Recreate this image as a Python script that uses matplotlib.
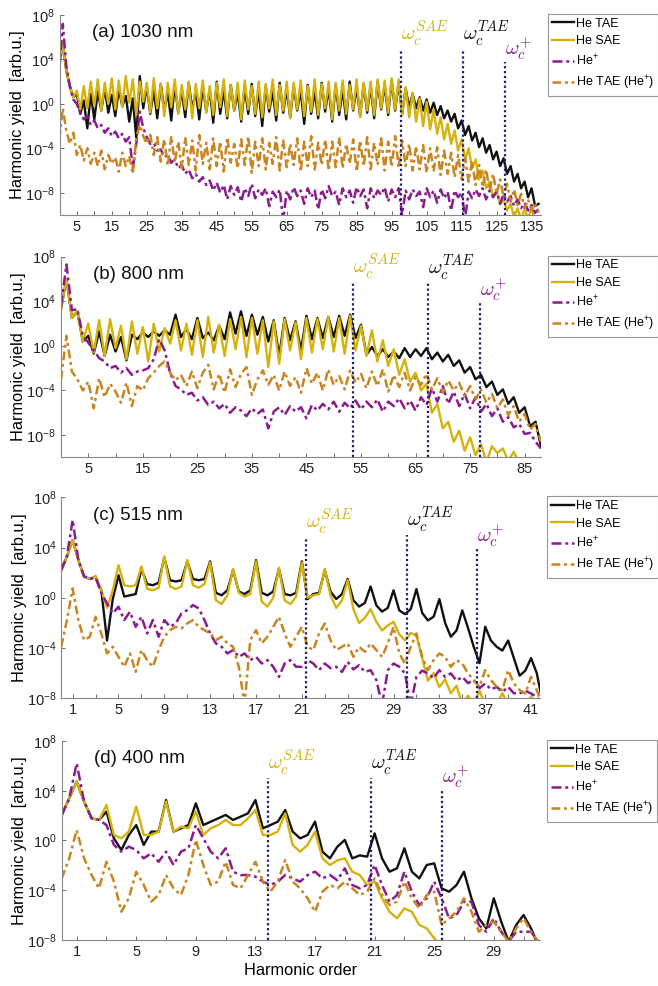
import numpy as np
import matplotlib
matplotlib.use("Agg")
import matplotlib.pyplot as plt

plt.rcParams['font.family'] = ['Liberation Sans', 'DejaVu Sans']
plt.rcParams['mathtext.fontset'] = 'custom'
plt.rcParams['mathtext.rm'] = 'Liberation Sans'
plt.rcParams['mathtext.it'] = 'Liberation Sans:italic'

# ---- data: log10 of harmonic yield ----
# (a) 1030 nm, harmonic orders 0..137
harm_a = np.arange(0, 138)
tae_a = [3.5, 5.4, 3.0, 1.6, 0.6, 0.9, -0.9, 0.3, -2.2, 0.9,
         -1.4, 1.1, -0.6, 1.4, -0.8, 0.8, -1.1, 1.3, -0.2, 0.7,
         -1.6, 0.5, -3.1, 2.5, -0.4, 1.6, -0.9, 1.2, -1.3, 1.8,
         -0.6, 1.0, -1.5, 1.7, -0.8, 1.2, -1.2, 1.9, -0.5, 1.1,
         -1.4, 1.6, -0.7, 1.3, -1.7, 2.0, -0.9, 1.2, -1.3, 1.7,
         -0.6, 1.0, -1.6, 1.5, -0.9, 1.8, -1.1, 1.2, -2.0, 1.6,
         -0.7, 1.1, -1.5, 1.9, -0.8, 1.3, -1.2, 1.6, -0.6, 1.2,
         -1.8, 1.7, -0.9, 1.1, -1.3, 1.9, -0.7, 1.4, -1.6, 1.7,
         -1.0, 1.3, -1.4, 2.0, -0.6, 1.5, -1.1, 1.8, -0.8, 1.6,
         -1.3, 2.0, -0.5, 1.7, -1.0, 2.1, -0.6, 1.9, -0.9, 1.4,
         -0.3, 0.9, -0.4, 0.6, -0.6, 0.4, -0.8, 0.1, -1.0, -0.2,
         -1.3, -0.6, -1.6, -0.9, -2.2, -1.5, -2.8, -2.0, -3.3, -2.6,
         -3.9, -3.1, -4.4, -3.7, -5.0, -4.3, -5.6, -4.9, -6.3, -5.6,
         -7.0, -6.3, -7.6, -7.0, -8.4, -7.6, -9.2, -9.0]
sae_a = [3.5, 5.4, 3.0, 1.6, 0.6, 1.2, -0.5, 1.6, -0.4, 2.0,
         -0.2, 2.2, -0.6, 1.9, 0.0, 2.3, -0.5, 2.1, -0.3, 2.5,
         0.1, 2.2, -1.0, 2.0, 0.2, 1.9, -0.8, 2.3, -0.4, 1.8,
         -1.1, 1.9, -0.3, 2.2, -0.9, 1.7, -0.5, 2.0, -1.3, 1.8,
         -0.4, 2.1, -0.8, 1.6, -1.0, 1.9, -0.3, 2.2, -1.1, 1.7,
         -0.6, 1.9, -1.4, 2.1, -0.5, 1.6, -0.9, 2.0, -1.2, 1.8,
         -0.4, 2.2, -1.0, 1.7, -0.6, 2.0, -1.3, 1.9, -0.5, 2.1,
         -1.1, 1.6, -0.7, 2.2, -1.0, 1.8, -0.4, 2.0, -1.4, 1.9,
         -0.6, 2.1, -0.9, 1.7, -0.5, 2.2, -1.2, 1.9, -0.6, 2.0,
         -1.0, 2.2, -0.4, 2.1, -0.8, 2.3, -0.5, 2.2, -1.0, 1.5,
         -1.2, 1.0, -1.6, 0.5, -2.0, 0.2, -2.3, -0.5, -2.7, -1.2,
         -3.2, -1.8, -3.6, -2.4, -4.2, -3.2, -5.0, -4.0, -5.8, -5.0,
         -6.8, -6.0, -7.6, -7.0, -8.4, -7.8, -9.0, -8.6, -9.6, -9.0,
         -10.2, -9.4, -10.4, -9.5, -10.3, -9.4, -10.4, -10.2]
hep_a = [3.0, 7.2, 3.4, 1.6, 0.4, 0.0, -0.8, -1.4, -1.1, -1.9,
         -1.5, -2.2, -1.9, -2.6, -2.2, -2.9, -2.5, -3.1, -2.7, -3.4,
         -3.0, -5.8, -3.6, -0.7, -2.2, -3.0, -3.6, -3.5, -4.2, -4.1,
         -4.8, -4.6, -5.3, -5.0, -5.8, -5.5, -6.3, -5.9, -6.7, -6.3,
         -7.0, -6.6, -7.3, -6.9, -7.8, -7.1, -8.0, -7.3, -8.6, -7.4,
         -8.2, -7.5, -8.8, -7.6, -8.3, -7.2, -8.5, -7.7, -8.2, -7.6,
         -9.2, -7.9, -8.4, -7.7, -10.5, -7.8, -8.6, -7.5, -8.3, -7.8,
         -9.0, -7.6, -8.4, -7.8, -9.5, -7.7, -8.5, -7.4, -8.3, -7.9,
         -9.1, -7.6, -8.4, -7.8, -8.9, -7.5, -8.3, -7.7, -9.4, -7.6,
         -8.5, -7.8, -8.2, -7.5, -8.8, -7.7, -8.4, -7.6, -10.0, -7.8,
         -8.6, -7.7, -8.3, -7.9, -9.3, -7.6, -8.4, -7.8, -8.9, -7.7,
         -8.5, -7.9, -9.6, -7.8, -8.4, -8.0, -10.3, -7.9, -8.5, -7.7,
         -8.3, -7.6, -8.6, -7.8, -8.4, -7.9, -9.0, -8.1, -8.8, -8.3,
         -9.2, -8.6, -9.4, -8.9, -9.6, -9.1, -9.8, -9.5]
taep_a = [-3.2, -0.4, -2.4, -3.6, -2.6, -4.6, -3.7, -5.1, -4.0, -5.4,
          -4.4, -5.6, -4.2, -5.9, -4.6, -5.4, -4.8, -6.1, -4.4, -5.6,
          -4.7, -6.3, -3.1, -1.9, -2.9, -3.6, -2.8, -4.6, -3.0, -5.2,
          -3.2, -5.6, -2.9, -5.3, -3.4, -5.8, -3.0, -5.5, -3.3, -6.0,
          -2.8, -5.4, -3.5, -5.9, -3.1, -5.6, -3.4, -6.1, -3.0, -5.3,
          -3.6, -5.8, -3.2, -5.5, -2.9, -6.2, -3.4, -5.6, -3.1, -5.9,
          -3.5, -5.4, -3.0, -6.0, -3.3, -5.7, -3.6, -5.5, -3.1, -6.1,
          -3.4, -5.6, -2.9, -5.9, -3.5, -5.5, -3.2, -6.0, -3.4, -5.7,
          -3.0, -5.8, -3.6, -5.4, -3.2, -6.1, -3.3, -5.6, -3.0, -5.9,
          -3.5, -5.5, -3.1, -6.0, -3.4, -5.7, -2.9, -5.8, -3.3, -5.6,
          -3.6, -6.0, -3.8, -5.9, -3.7, -6.2, -4.0, -6.1, -3.9, -6.4,
          -4.2, -6.3, -4.4, -6.6, -4.6, -6.8, -4.9, -7.0, -5.2, -7.3,
          -5.5, -7.5, -5.9, -7.8, -6.3, -8.1, -6.8, -8.4, -7.2, -8.8,
          -7.7, -9.1, -8.1, -9.4, -8.6, -9.6, -9.0, -9.8]

# (b) 800 nm, harmonic orders 0..88
harm_b = np.arange(0, 89)
tae_b = [3.3, 6.0, 2.5, 3.1, 0.4, 0.9, -0.7, 1.3, -0.9, 1.0,
         -0.5, 0.8, -1.3, 1.0, 0.6, 1.2, 0.8, 1.3, 0.9, 1.4,
         1.0, 2.8, 0.8, 1.5, 0.6, 2.5, 0.7, 1.2, 0.5, 1.8,
         0.6, 3.0, 1.1, 3.1, 0.9, 2.8, 1.0, 2.6, 0.4, 2.3,
         -0.9, 2.5, 0.5, 2.2, -0.4, 2.7, 0.6, 2.5, 0.7, 2.6,
         0.8, 2.7, 0.9, 2.8, 0.7, 1.9, -0.8, -0.1, -0.9, -0.3,
         -1.0, -0.5, -1.1, -0.2, -1.0, -0.3, -0.9, -0.2, -1.2, -0.6,
         -1.4, -0.8, -1.8, -1.3, -2.4, -1.9, -3.0, -2.6, -3.7, -3.2,
         -4.4, -3.9, -5.2, -4.6, -6.0, -5.5, -7.2, -6.8, -9.0]
sae_b = [3.3, 6.0, 2.5, 3.1, 0.4, 2.0, -0.6, 2.3, -0.9, 2.4,
         -0.2, 1.8, -1.2, 2.2, -0.7, 1.7, -1.4, 2.0, -0.5, 1.6,
         0.2, 2.3, -0.4, 2.0, -0.8, 2.3, -1.0, 2.6, -0.6, 1.9,
         -0.9, 2.4, -0.3, 2.6, -1.0, 2.5, -0.7, 2.3, -1.9, 2.2,
         -1.6, 2.4, -0.4, 2.1, -1.2, 2.5, -0.6, 2.4, -0.3, 2.6,
         -0.5, 2.5, -0.7, 2.7, -0.4, 1.8, -0.9, 1.4, -1.4, 0.5,
         -1.8, -0.3, -2.6, -1.2, -3.2, -2.4, -4.0, -3.4, -6.0, -5.2,
         -7.4, -6.8, -8.6, -7.6, -9.4, -8.2, -9.8, -8.8, -10.4, -9.0,
         -9.6, -9.2, -10.3, -9.5, -10.5, -10.2, -10.5, -10.3, -10.5]
hep_b = [3.6, 7.3, 3.2, 3.3, 0.9, 0.3, -0.4, -1.1, -1.4, -2.0,
         -1.8, -2.4, -2.0, -2.6, -2.3, -2.2, -2.0, -1.2, 0.6, -0.4,
         -2.4, -3.6, -3.9, -4.4, -4.2, -4.9, -4.6, -5.3, -5.0, -5.6,
         -5.2, -6.0, -5.5, -5.8, -6.3, -5.6, -6.1, -5.7, -7.4, -5.9,
         -5.5, -6.2, -5.4, -5.9, -5.5, -6.5, -5.3, -5.8, -5.2, -5.7,
         -5.0, -5.9, -5.1, -5.6, -4.9, -5.7, -5.0, -5.5, -4.8, -5.9,
         -5.0, -5.4, -4.7, -5.6, -4.9, -5.8, -4.6, -5.3, -3.8, -5.0,
         -3.6, -5.2, -4.1, -5.4, -4.3, -5.6, -4.6, -5.9, -5.2, -6.3,
         -5.6, -6.8, -6.4, -7.3, -7.0, -7.9, -7.8, -8.6, -9.2]
taep_b = [-3.0, 0.9, -2.3, -3.0, -4.0, -3.2, -5.6, -2.9, -4.6, -3.4,
          -4.1, -5.1, -3.3, -5.4, -3.6, -4.0, -2.9, -2.4, -1.8, -1.4,
          -2.4, -3.1, -2.6, -3.6, -2.3, -3.8, -2.4, -1.7, -3.9, -2.5,
          -4.2, -2.1, -3.7, -2.5, -1.9, -4.4, -3.0, -2.2, -3.5, -2.6,
          -4.0, -2.3, -3.6, -2.8, -4.2, -2.0, -3.4, -2.4, -4.0, -2.1,
          -3.5, -2.7, -3.9, -2.2, -3.3, -2.5, -3.8, -2.3, -3.6, -2.1,
          -4.1, -2.6, -3.7, -2.4, -4.0, -2.8, -3.5, -2.5, -3.9, -2.9,
          -4.2, -3.1, -4.0, -3.3, -4.5, -3.6, -4.8, -3.9, -5.1, -4.3,
          -5.6, -4.8, -6.2, -5.4, -6.8, -6.1, -7.5, -7.0, -8.6]

# (c) 515 nm, harmonic orders 0..42 in steps of 0.5
harm_c = np.arange(0, 42.01, 0.5)
tae_c = [2.2, 3.3, 4.6, 3.0, 1.7, 1.5, 1.7, 0.6, -3.4, -0.1, 1.8, 0.1,
         0.2, 0.3, 2.3, 1.1, 1.0, 1.2, 3.2, 1.4, 1.3, 1.4, 2.9, 1.5,
         1.4, 1.5, 2.9, 0.4, 0.2, 0.6, 2.2, 0.5, 0.3, 0.6, 3.0, 0.4,
         0.2, 0.5, 2.3, 0.3, 0.2, 0.4, 2.9, -0.1, 0.3, 0.4, 2.2, 0.5,
         -0.1, 0.3, 1.5, -0.2, -0.7, -0.4, 0.9, -0.6, -1.1, -0.8, 0.6, -1.0,
         -1.3, -0.9, 0.7, -1.2, -1.8, -1.5, -0.1, -2.0, -3.1, -2.6, -1.0, -2.4,
         -3.9, -5.2, -2.3, -3.4, -3.9, -4.2, -3.4, -4.8, -6.2, -5.8, -4.8, -6.0,
         -8.3]
sae_c = [2.2, 3.3, 4.6, 3.0, 1.7, 1.5, 1.7, 0.6, -0.8, 0.6, 2.6, 1.0,
         0.9, 1.0, 2.5, 0.7, 0.6, 0.8, 3.3, 0.9, 0.7, 0.9, 3.0, 1.0,
         0.8, 1.1, 2.8, -0.2, -0.5, 0.2, 2.3, 0.4, 0.1, 0.3, 2.9, -0.3,
         -0.7, 0.0, 2.4, -0.2, -0.5, 0.1, 2.8, 0.0, 0.2, 0.3, 2.3, 0.2,
         -0.8, -0.2, 1.4, -0.9, -2.0, -1.6, -0.9, -1.9, -2.6, -2.2, -1.9, -2.9,
         -3.4, -2.8, -3.0, -4.8, -6.6, -6.0, -7.1, -6.5, -7.6, -7.0, -8.5, -7.8,
         -8.5, -7.4, -8.5, -8.5, -8.5, -7.6, -8.5, -8.5, -8.5, -8.5, -7.9, -8.5,
         -8.5]
hep_c = [2.2, 3.3, 6.2, 3.0, 1.7, 1.5, 1.6, 0.4, -0.45, -1.24, -0.71, -1.77,
         -1.11, -2.31, -1.51, -2.84, -1.77, -3.1, -1.77, -2.31, -2.04, -1.24, -0.98, -0.58,
         -0.84, -1.77, -2.84, -3.63, -3.9, -4.43, -4.16, -4.7, -4.43, -4.96, -4.7, -5.23,
         -4.96, -5.49, -6.29, -5.23, -4.96, -5.49, -5.49, -4.96, -5.23, -5.76, -5.23, -5.6,
         -5.49, -5.9, -5.1, -5.7, -5.36, -5.9, -5.76, -6.55, -8.5, -5.76, -5.23, -5.49,
         -6.02, -8.5, -6.29, -5.8, -6.02, -6.4, -5.76, -6.3, -6.02, -6.6, -6.29, -6.8,
         -6.55, -7.2, -6.82, -7.3, -7.09, -7.5, -7.09, -7.6, -7.62, -7.4, -7.62, -7.9,
         -8.5]
taep_c = [-3.9, -1.77, 0.75, -1.77, -3.37, -3.1, -1.51, -2.84, -4.43, -3.9, -4.7, -5.49,
          -4.43, -5.89, -4.16, -4.96, -5.49, -4.16, -3.1, -2.57, -2.31, -2.44, -2.04, -1.77,
          -2.31, -2.57, -2.84, -3.37, -3.1, -3.63, -3.9, -5.49, -8.5, -3.37, -2.57, -3.63,
          -3.1, -2.31, -1.51, -2.84, -3.9, -3.1, -2.31, -3.9, -4.16, -2.84, -2.04, -3.37,
          -4.16, -3.9, -3.63, -4.7, -3.9, -4.3, -3.63, -4.16, -4.7, -3.63, -2.31, -4.43,
          -5.23, -3.9, -2.84, -4.7, -5.76, -4.96, -4.43, -4.7, -5.49, -4.96, -5.23, -6.02,
          -6.55, -7.09, -5.76, -6.55, -7.09, -7.35, -5.76, -6.82, -7.35, -7.62, -6.29, -7.35,
          -8.5]

# (d) 400 nm, harmonic orders 0..32 in steps of 0.5
harm_d = np.arange(0, 32.01, 0.5)
tae_d = [2.05, 3.39, 4.73, 3.12, 1.78, 1.65, 2.32, 0.17, -0.77, 0.44, 1.24, -0.36,
         0.71, 0.71, 3.25, 0.71, 0.98, 1.24, 2.99, 1.24, 1.51, 1.78, 2.05, 1.65,
         1.91, 2.18, 3.25, 0.98, 1.24, 1.51, 2.45, 0.71, 0.17, 0.44, 1.51, -0.9,
         -1.44, -0.5, 0.04, -1.44, -1.2, -1.3, 0.57, -1.44, -2.51, -2.24, -0.63, -2.51,
         -3.05, -1.97, -1.84, -3.85, -4.12, -3.58, -2.51, -4.65, -6.26, -7.07, -4.65, -6.53,
         -8.14, -6.8, -6.0, -7.07, -8.5]
sae_d = [2.05, 3.39, 4.73, 3.12, 1.78, 1.65, 2.85, 0.44, 0.17, 0.71, 2.72, 0.44,
         0.44, 0.71, 3.12, 0.71, 1.11, 0.98, 2.32, 0.44, 0.98, 1.24, 1.65, 1.24,
         1.24, 1.78, 2.45, 0.44, 0.44, 0.71, 2.18, -0.36, -0.9, -0.36, 0.71, -1.44,
         -1.97, -1.6, -1.44, -2.51, -2.78, -3.58, -3.31, -4.65, -5.73, -6.26, -5.46, -5.73,
         -6.8, -7.07, -7.87, -8.5, -8.5, -8.5, -8.5, -8.5, -8.5, -8.5, -8.5, -8.5,
         -8.5, -8.5, -8.5, -8.5, -8.5]
hep_d = [2.05, 3.39, 6.2, 3.12, 1.78, 1.65, 1.24, -0.36, -0.9, -0.5, -0.77, -1.44,
         -1.03, -1.71, -0.9, -1.97, -0.9, -0.63, 1.24, 0.17, -0.9, -1.44, -0.63, -2.51,
         -2.78, -2.78, -2.91, -3.31, -3.58, -3.31, -2.78, -3.05, -3.31, -2.78, -2.51, -3.05,
         -2.78, -3.2, -2.24, -3.58, -3.85, -3.58, -1.97, -3.58, -4.92, -4.39, -2.51, -4.12,
         -5.19, -4.65, -3.31, -4.65, -6.26, -6.0, -4.92, -4.92, -6.8, -7.34, -6.26, -7.34,
         -8.14, -7.34, -7.34, -7.34, -8.14]
taep_d = [-3.05, -1.44, 0.84, -1.44, -2.78, -3.85, -1.71, -3.31, -5.73, -4.65, -2.51, -3.58,
          -4.92, -4.39, -2.78, -3.85, -4.39, -2.78, 0.04, -1.97, -3.58, -3.31, -1.71, -3.58,
          -3.85, -2.78, -1.71, -3.31, -4.12, -3.31, -1.57, -3.31, -3.85, -4.65, -5.73, -4.12,
          -3.58, -3.85, -3.31, -3.85, -4.39, -4.12, -3.05, -4.39, -5.19, -4.92, -3.31, -4.65,
          -5.46, -4.39, -4.12, -6.8, -6.26, -5.73, -4.65, -5.73, -7.34, -6.8, -6.53, -7.34,
          -8.14, -7.07, -6.26, -7.34, -8.14]

# cutoff markers: (harmonic, log10 of line top) for SAE, TAE, He+
cut_a = [(97.7, 4.9), (115.3, 4.9), (127.4, 3.8)]
cut_b = [(53.6, 5.7), (67.3, 5.6), (76.8, 3.85)]
cut_c = [(21.4, 4.85), (30.2, 5.0), (36.3, 3.9)]
cut_d = [(13.86, 5.0), (20.75, 5.0), (25.5, 4.06)]

titles = ['(a) 1030 nm', '(b) 800 nm', '(c) 515 nm', '(d) 400 nm']
labels = ['He TAE', 'He SAE', 'He$^{+}$', 'He TAE (He$^{+}$)']

c_tae = '#111111'
c_sae = '#D5B20C'
c_hep = '#8B1C8D'
c_taep = '#C88520'
c_cut = '#1C1C78'
cut_txt = [(r'$\omega_c^{SAE}$', c_sae), (r'$\omega_c^{TAE}$', c_tae),
           (r'$\omega_c^{+}$', c_hep)]

fig = plt.figure(figsize=(6.58, 9.86), dpi=100)

panels = [
    dict(pos=[0.0912, 0.7820, 0.7305, 0.2028], x=harm_a,
         ys=[tae_a, sae_a, hep_a, taep_a], xlim=(0.2, 137.6), ylo=1e-10,
         ticks=list(range(5, 136, 5)), lab_every=10, lab_start=5, cut=cut_a),
    dict(pos=[0.0927, 0.5361, 0.7295, 0.2036], x=harm_b,
         ys=[tae_b, sae_b, hep_b, taep_b], xlim=(0, 88), ylo=1e-10,
         ticks=list(range(5, 86, 5)), lab_every=10, lab_start=5, cut=cut_b),
    dict(pos=[0.0930, 0.2918, 0.7280, 0.2038], x=harm_c,
         ys=[tae_c, sae_c, hep_c, taep_c], xlim=(0, 41.8), ylo=1e-8,
         ticks=list(range(1, 42, 2)), lab_every=4, lab_start=1, cut=cut_c),
    dict(pos=[0.0939, 0.0467, 0.7267, 0.2018], x=harm_d,
         ys=[tae_d, sae_d, hep_d, taep_d], xlim=(0, 32.1), ylo=1e-8,
         ticks=list(range(1, 32, 2)), lab_every=4, lab_start=1, cut=cut_d),
]

styles = [dict(color=c_tae, lw=1.7, ls='-'),
          dict(color=c_sae, lw=1.7, ls='-'),
          dict(color=c_hep, lw=1.8, ls=(0, (4, 1.5, 1.2, 1.5))),
          dict(color=c_taep, lw=1.8, ls=(0, (3.5, 1.5, 1.2, 1.5)))]

for i, p in enumerate(panels):
    ax = fig.add_axes(p['pos'])
    for y, st, lab in zip(p['ys'], styles, labels):
        ax.plot(p['x'], 10.0 ** np.array(y), label=lab, **st)
    ax.set_yscale('log')
    ax.set_ylim(p['ylo'], 1e8)
    ax.set_xlim(*p['xlim'])
    ax.set_yticks([1e-8, 1e-4, 1e0, 1e4, 1e8])
    ax.minorticks_off()
    ax.set_xticks(p['ticks'])
    ax.set_xticklabels([str(t) if (t - p['lab_start']) % p['lab_every'] == 0 else ''
                        for t in p['ticks']])
    ax.tick_params(direction='in', length=3, width=0.6, colors='#555555',
                   labelcolor='#222222', labelsize=10.5)
    for s in ['top', 'right']:
        ax.spines[s].set_visible(False)
    for s in ['left', 'bottom']:
        ax.spines[s].set_color('#888888')
        ax.spines[s].set_linewidth(0.8)

    for (xc, top), (txt, col) in zip(p['cut'], cut_txt):
        ax.plot([xc, xc], [p['ylo'], 10.0 ** top], color=c_cut, lw=1.6,
                ls=(0, (1, 1.2)), zorder=5)
        ax.text(xc, 10.0 ** top, txt, color=col, fontsize=15,
                math_fontfamily='cm', ha='left', va='bottom')

    ax.text(0.067, 0.91, titles[i], transform=ax.transAxes, fontsize=13.5,
            va='center', ha='left', color='#111111')
    ax.set_ylabel('Harmonic yield  [arb.u.]', fontsize=11.8, labelpad=0)
    if i == 3:
        ax.set_xlabel('Harmonic order', fontsize=11.8, labelpad=3)

    leg = ax.legend(loc='upper left', bbox_to_anchor=(1.015, 1.005),
                    fontsize=9.0, frameon=True, fancybox=False,
                    edgecolor='#999999', framealpha=1, handlelength=1.8,
                    handletextpad=0.15, borderpad=0.3, labelspacing=0.45,
                    borderaxespad=0)
    leg.get_frame().set_linewidth(0.8)

fig.savefig('out.png', dpi=100)
